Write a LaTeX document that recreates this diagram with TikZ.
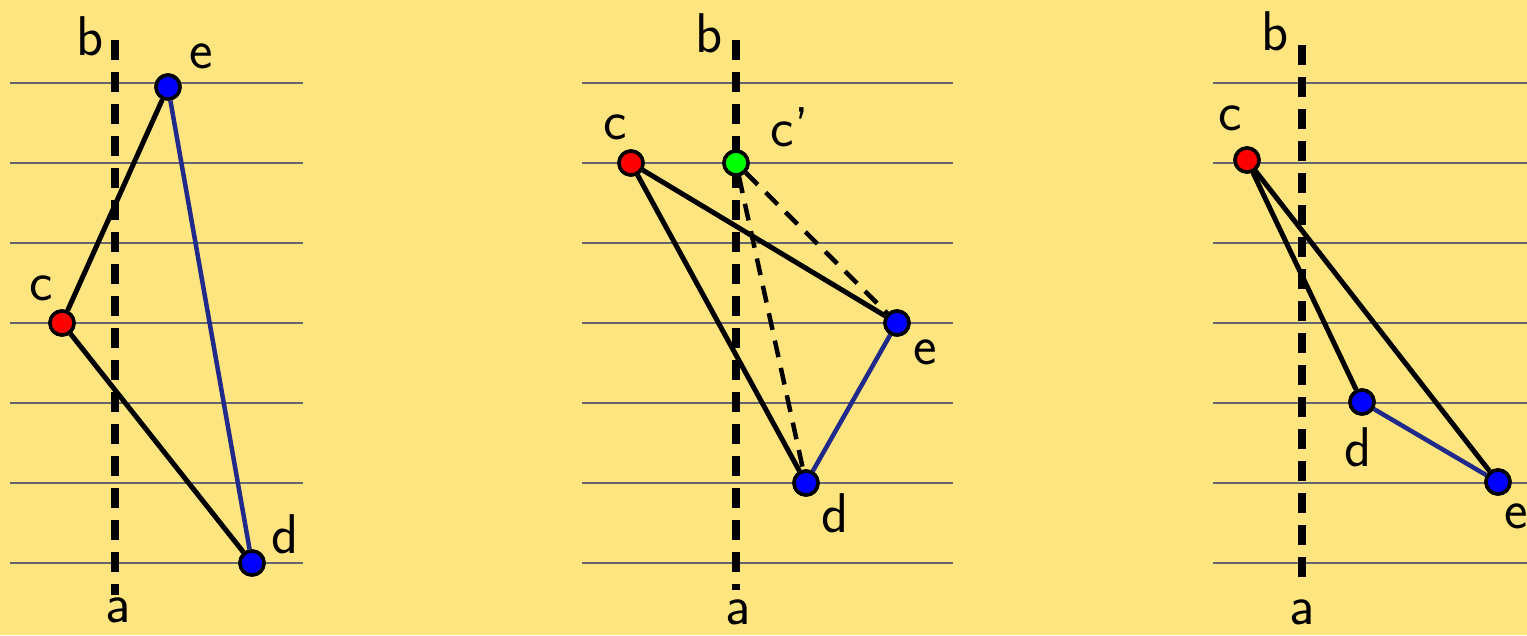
\documentclass[tikz,border=0pt]{standalone}
\usepackage{fontspec}
\begin{document}
\definecolor{bg}{RGB}{255,229,128}
\definecolor{rule}{RGB}{100,100,110}
\definecolor{navy}{RGB}{31,42,138}
\tikzset{
  pt/.style={circle,draw=black,line width=3.5pt,minimum size=24pt,inner sep=0pt},
  lbl/.style={font=\fontsize{56}{56}\selectfont\sffamily,inner sep=0pt},
  axis/.style={line width=8.5pt,dash pattern=on 20pt off 12pt},
  edge/.style={line width=5pt},
  bedge/.style={line width=4.5pt,navy},
  dedge/.style={line width=4.5pt,dash pattern=on 17pt off 11pt},
  ruling/.style={line width=2.5pt,rule}
}
\begin{tikzpicture}[x=1pt,y=-1pt]
\fill[bg] (0,0) rectangle (1527,635);
\useasboundingbox (0,0) rectangle (1527,635);
% rulings
\foreach \yy in {83,163,243,323,403,483,563}{
  \draw[ruling] (10,\yy) -- (303,\yy);
  \draw[ruling] (582,\yy) -- (953,\yy);
  \draw[ruling] (1213,\yy) -- (1527,\yy);
}
% panel 1
\coordinate (b1) at (115,40); \coordinate (a1) at (115,595);
\draw[axis] (b1) -- (a1);
\node[lbl] (lb1) at (90,36) {b};
\node[lbl] (la1) at (118,610) {a};
\node[pt,fill=blue] (e1) at (168,87) {};
\node[pt,fill=red] (c1) at (62,323) {};
\node[pt,fill=blue] (d1) at (252,563) {};
\draw[edge] (e1) -- (c1);
\draw[edge] (c1) -- (d1);
\draw[bedge] (e1) -- (d1);
\node[pt,fill=blue] at (e1) {};
\node[pt,fill=red] at (c1) {};
\node[pt,fill=blue] at (d1) {};
\node[lbl] (le1) at (201,56) {e};
\node[lbl] (lc1) at (41,288) {c};
\node[lbl] (ld1) at (285,534) {d};
% panel 2
\coordinate (b2) at (736,40); \coordinate (a2) at (736,590);
\draw[axis] (b2) -- (a2);
\node[lbl] (lb2) at (709,33) {b};
\node[lbl] (la2) at (738,612) {a};
\node[pt,fill=red] (c2) at (631,163) {};
\node[pt,fill=green] (cp2) at (736,163) {};
\node[pt,fill=blue] (e2) at (897,323) {};
\node[pt,fill=blue] (d2) at (806,483) {};
\draw[edge] (c2) -- (e2);
\draw[edge] (c2) -- (d2);
\draw[bedge] (e2) -- (d2);
\draw[dedge] (cp2) -- (e2);
\draw[dedge] (cp2) -- (d2);
\node[pt,fill=red] at (c2) {};
\node[pt,fill=green] at (cp2) {};
\node[pt,fill=blue] at (e2) {};
\node[pt,fill=blue] at (d2) {};
\node[lbl] (lc2) at (615,127) {c};
\node[lbl] (lcp2) at (790,127) {c’};
\node[lbl] (le2) at (925,352) {e};
\node[lbl] (ld2) at (835,513) {d};
% panel 3
\coordinate (b3) at (1302,45); \coordinate (a3) at (1302,577);
\draw[axis] (b3) -- (a3);
\node[lbl] (lb3) at (1275,31) {b};
\node[lbl] (la3) at (1302,612) {a};
\node[pt,fill=red] (c3) at (1247,160) {};
\node[pt,fill=blue] (d3) at (1362,402) {};
\node[pt,fill=blue] (e3) at (1498,482) {};
\draw[edge] (c3) -- (d3);
\draw[edge] (c3) -- (e3);
\draw[bedge] (d3) -- (e3);
\node[pt,fill=red] at (c3) {};
\node[pt,fill=blue] at (d3) {};
\node[pt,fill=blue] at (e3) {};
\node[lbl] (lc3) at (1230,118) {c};
\node[lbl] (ld3) at (1358,447) {d};
\node[lbl] (le3) at (1516,516) {e};
\end{tikzpicture}
\end{document}
